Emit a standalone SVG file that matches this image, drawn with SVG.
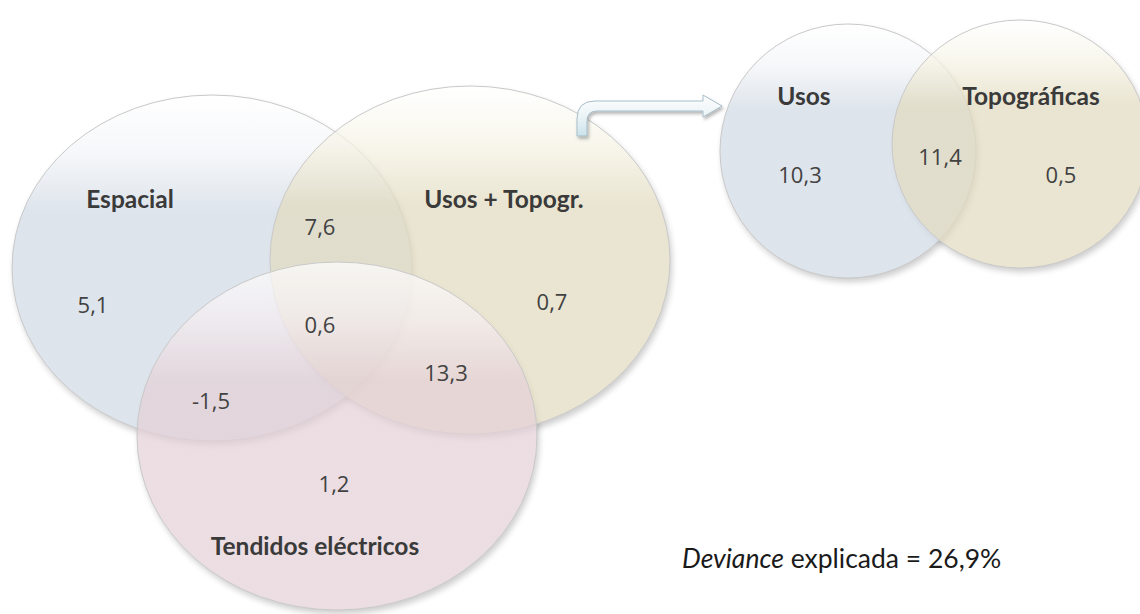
<svg xmlns="http://www.w3.org/2000/svg" width="1140" height="614" viewBox="0 0 1140 614">
<style>
.lbl{font-family:Lato,"Open Sans","Liberation Sans",sans-serif;font-weight:bold;font-size:24.5px;fill:#3a3a3a;text-anchor:middle}
.num{font-family:"Open Sans","Noto Sans","Liberation Sans",sans-serif;font-size:22px;fill:#424242;text-anchor:middle}
.dev{font-family:Lato,"Liberation Sans",sans-serif;font-size:26.5px;fill:#1a1a1a}
.ring{stroke:#c9c9c9;stroke-width:1;fill-opacity:0.72}
.shadow{fill:#000;opacity:0.2}
</style>
<defs>
<filter id="blur" x="-10%" y="-10%" width="120%" height="120%"><feGaussianBlur stdDeviation="3"/></filter>
<filter id="ashadow" x="-20%" y="-30%" width="140%" height="170%"><feDropShadow dx="1.5" dy="2.5" stdDeviation="1.5" flood-color="#000" flood-opacity="0.3"/></filter>
<linearGradient id="gB" x1="0" y1="0" x2="0" y2="1"><stop offset="0" stop-color="#ffffff"/><stop offset="0.16" stop-color="#f3f5f8"/><stop offset="0.34" stop-color="#d1dae4"/><stop offset="1" stop-color="#d1dae4"/></linearGradient>
<linearGradient id="gY" x1="0" y1="0" x2="0" y2="1"><stop offset="0" stop-color="#ffffff"/><stop offset="0.16" stop-color="#f6f4e6"/><stop offset="0.34" stop-color="#e2dbc0"/><stop offset="1" stop-color="#e2dbc0"/></linearGradient>
<linearGradient id="gP" x1="0" y1="0" x2="0" y2="1"><stop offset="0" stop-color="#ffffff"/><stop offset="0.16" stop-color="#f5eef1"/><stop offset="0.34" stop-color="#e4d1d7"/><stop offset="1" stop-color="#e4d1d7"/></linearGradient>
<linearGradient id="gA" x1="0" y1="0" x2="0" y2="1"><stop offset="0" stop-color="#ffffff"/><stop offset="0.5" stop-color="#eef7fa"/><stop offset="1" stop-color="#c9e4ee"/></linearGradient>
<mask id="mE"><rect width="1140" height="614" fill="#fff"/><ellipse cx="212" cy="268" rx="200" ry="173" fill="#000"/></mask>
<mask id="mY"><rect width="1140" height="614" fill="#fff"/><ellipse cx="470" cy="260" rx="200" ry="174" fill="#000"/></mask>
<mask id="mP"><rect width="1140" height="614" fill="#fff"/><ellipse cx="337" cy="436" rx="200" ry="174" fill="#000"/></mask>
<mask id="mU"><rect width="1140" height="614" fill="#fff"/><ellipse cx="848" cy="151" rx="128" ry="127" fill="#000"/></mask>
<mask id="mT"><rect width="1140" height="614" fill="#fff"/><ellipse cx="1020" cy="144" rx="128" ry="124" fill="#000"/></mask>
</defs>
<rect width="1140" height="614" fill="#ffffff"/>

<g id="shadows">
<ellipse class="shadow" cx="214" cy="272" rx="200" ry="173" filter="url(#blur)" mask="url(#mE)"/>
<ellipse class="shadow" cx="472" cy="264" rx="200" ry="174" filter="url(#blur)" mask="url(#mY)"/>
<ellipse class="shadow" cx="339" cy="440" rx="200" ry="174" filter="url(#blur)" mask="url(#mP)"/>
<ellipse class="shadow" cx="850" cy="155" rx="128" ry="127" filter="url(#blur)" mask="url(#mU)"/>
<ellipse class="shadow" cx="1022" cy="148" rx="128" ry="124" filter="url(#blur)" mask="url(#mT)"/>
</g>

<g id="espacial">
<ellipse class="ring" cx="212" cy="268" rx="200" ry="173" fill="url(#gB)"/>
<text class="lbl" x="130" y="208">Espacial</text>
</g>
<g id="usos-topogr">
<ellipse class="ring" cx="470" cy="260" rx="200" ry="174" fill="url(#gY)"/>
<text class="lbl" x="504" y="208">Usos + Topogr.</text>
</g>
<g id="tendidos">
<ellipse class="ring" cx="337" cy="436" rx="200" ry="174" fill="url(#gP)"/>
<text class="lbl" x="315" y="555">Tendidos eléctricos</text>
</g>

<g id="values-big">
<text class="num" x="93" y="313">5,1</text>
<text class="num" x="320" y="235">7,6</text>
<text class="num" x="320" y="333">0,6</text>
<text class="num" x="552" y="310">0,7</text>
<text class="num" x="211" y="409">-1,5</text>
<text class="num" x="446" y="381">13,3</text>
<text class="num" x="334" y="492">1,2</text>
</g>

<g id="usos">
<ellipse class="ring" cx="848" cy="151" rx="128" ry="127" fill="url(#gB)"/>
<text class="lbl" x="804" y="105">Usos</text>
<text class="num" x="800" y="183">10,3</text>
</g>
<g id="topograficas">
<ellipse class="ring" cx="1020" cy="144" rx="128" ry="124" fill="url(#gY)"/>
<text class="lbl" x="1031" y="105">Topográficas</text>
<text class="num" x="940" y="165">11,4</text>
<text class="num" x="1061" y="183">0,5</text>
</g>

<g id="connectors">
<path d="M577,136 L577,119 Q577,101 595,101 L703,101 L703,95 L722,106 L703,117 L703,111 L597,111 Q587,111 587,121 L587,136 Z" fill="url(#gA)" fill-opacity="0.9" stroke="#9fb7c4" stroke-width="0.9" filter="url(#ashadow)"/>
</g>

<g id="caption">
<text class="dev" x="682" y="568"><tspan font-style="italic">Deviance</tspan> explicada = 26,9%</text>
</g>
</svg>
